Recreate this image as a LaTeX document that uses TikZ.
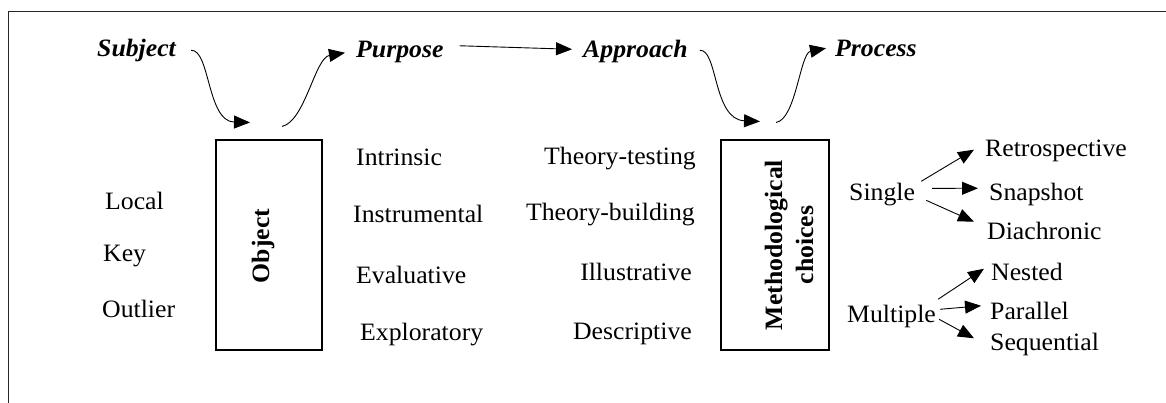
\documentclass[tikz,border=0pt]{standalone}
\usepackage{fontspec}
\setmainfont{Liberation Serif}[FakeStretch=1.03]
\usetikzlibrary{arrows.meta,calc}

\tikzset{
  txt/.style={inner sep=0pt, anchor=mid west, font=\fontsize{25}{30}\selectfont},
  txtr/.style={txt, anchor=mid east},
  hd/.style={txt, font=\fontsize{25}{30}\selectfont\bfseries\itshape},
  stagebox/.style={draw, line width=1.1pt, inner sep=0pt, minimum width=106pt, minimum height=210pt},
  vlabel/.style={inner sep=0pt, rotate=90, align=center, font=\fontsize{25}{31}\selectfont\bfseries},
  arr/.style={line width=0.9pt, -{Triangle[length=16pt,width=13pt]}},
  frame/.style={line width=1.4pt, draw=black!85}
}

\begin{document}
\begin{tikzpicture}[x=1pt,y=-1pt]
\useasboundingbox (0,0) rectangle (1166,403);

% open frame along the top and left edges
\draw[frame] (1166,11.5) -- (8.5,11.5) -- (8.5,403);

% the two framed stages
\node[stagebox] (objbox)  at (269,245) {};
\node[vlabel]   (objtxt)  at (263,246) {Object};
\node[stagebox, minimum width=108pt] (methbox) at (775,245) {};
\node[vlabel]   (methtxt) at (789,245) {Methodological\\choices};

\begin{scope}[yshift=-3pt]
% stage headings
\node[hd] (subj) at (97,51)  {Subject};
\node[hd] (purp) at (356,52) {Purpose};
\node[hd] (appr) at (583,52) {Approach};
\node[hd] (proc) at (835,51) {Process};

% subject types
\node[txt] (local)   at (105,204) {Local};
\node[txt] (key)     at (103,256) {Key};
\node[txt] (outlier) at (102,312) {Outlier};

% purposes
\node[txt] (intr)  at (356,160) {Intrinsic};
\node[txt] (instr) at (353,217) {Instrumental};
\node[txt] (eval)  at (356,278) {Evaluative};
\node[txt] (expl)  at (360,335) {Exploratory};

% approaches
\node[txtr] (ttest)  at (696,159) {Theory-testing};
\node[txtr] (tbuild) at (695,215) {Theory-building};
\node[txtr] (illus)  at (692,275) {Illustrative};
\node[txtr] (descr)  at (692,334) {Descriptive};

% process options
\node[txt] (single)   at (849,195) {Single};
\node[txt] (multiple) at (847,317) {Multiple};
\node[txt] (retro)    at (985,151) {Retrospective};
\node[txt] (snap)     at (989,195) {Snapshot};
\node[txt] (diach)    at (987,234) {Diachronic};
\node[txt] (nested)   at (991,275) {Nested};
\node[txt] (parallel) at (990,314) {Parallel};
\node[txt] (seq)      at (990,345) {Sequential};
\end{scope}

% flow between the stages
\draw[arr] ($(subj.east)+(15,0)$) .. controls +(19,-1) and +(-43,-1) .. ($(objbox.north)+(-19,-17)$);
\draw[arr] ($(objbox.north)+(13,-13)$) .. controls +(23,-5) and +(-30,5) .. ($(purp.west)+(-11,1)$);
\draw[arr] ($(purp.east)+(16,-6)$) -- ($(appr.west)+(-11,-2)$);
\draw[arr] ($(appr.east)+(12,-1)$) .. controls +(18,-1) and +(-47,-2) .. ($(methbox.north)+(-15,-18)$);
\draw[arr] ($(methbox.north)+(1,-17)$) .. controls +(20,-3) and +(-26,5) .. ($(proc.west)+(-9,0)$);

% single case designs
\draw[arr] ($(single.east)+(6,-13)$) -- ($(retro.west)+(-11,-1)$);
\draw[arr] ($(single.east)+(17,-6)$) -- ($(snap.west)+(-11,-6)$);
\draw[arr] ($(single.east)+(11,6)$)  -- ($(diach.west)+(-13,-9)$);

% multiple case designs
\draw[arr] ($(multiple.east)+(2,-17)$) -- ($(nested.west)+(-7,-3)$);
\draw[arr] ($(multiple.east)+(4,-7)$)  -- ($(parallel.west)+(-9,-5)$);
\draw[arr] ($(multiple.east)+(3,3)$)   -- ($(seq.west)+(-16,-6)$);
\end{tikzpicture}
\end{document}
